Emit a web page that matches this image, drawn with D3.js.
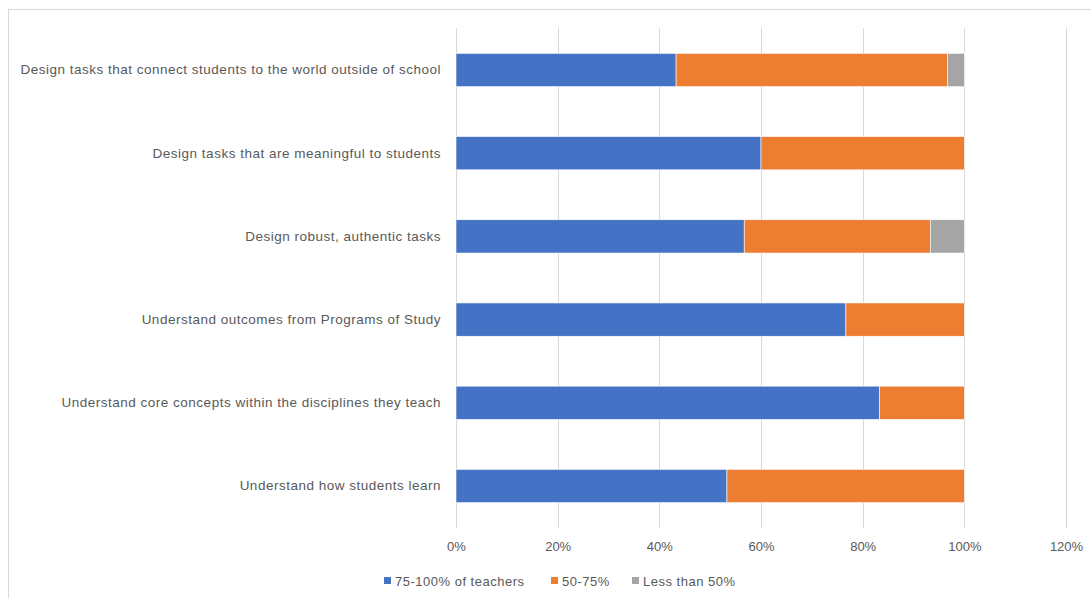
<!DOCTYPE html>
<html>
<head>
<meta charset="utf-8">
<script src="https://cdn.jsdelivr.net/npm/d3@7"></script>
<style>
  html, body { margin: 0; padding: 0; background: #fff; }
  svg { display: block; }
  text { font-family: "Liberation Sans", Arial, sans-serif; fill: #595959; }
</style>
</head>
<body>
<svg id="chart" width="1091" height="598"></svg>
<script>
const categories = [
  "Design tasks that connect students to the world outside of school",
  "Design tasks that are meaningful to students",
  "Design robust, authentic tasks",
  "Understand outcomes from Programs of Study",
  "Understand core concepts within the disciplines they teach",
  "Understand how students learn"
];
const seriesNames = ["75-100% of teachers", "50-75%", "Less than 50%"];
const high = [0.433, 0.60, 0.567, 0.767, 0.833, 0.533];
const mid = [0.534, 0.40, 0.366, 0.233, 0.167, 0.467];
const low = [0.033, 0.0, 0.067, 0.0, 0.0, 0.0];
const colors = ["#4472C4", "#ED7D31", "#A5A5A5"];
const tickValues = [0, 0.2, 0.4, 0.6, 0.8, 1.0, 1.2];

const svg = d3.select("#chart");

// outer border
svg.append("rect")
  .attr("x", 8.5).attr("y", 9.5)
  .attr("width", 1100).attr("height", 600)
  .attr("fill", "none").attr("stroke", "#D9D9D9").attr("stroke-width", 1);

const x = d3.scaleLinear().domain([0, 1.2]).range([456, 1066]);
const y = d3.scaleBand().domain(categories).range([28.4, 527.6]).paddingInner(0.6).paddingOuter(0.3);

// gridlines
svg.append("g").selectAll("line").data(tickValues).join("line")
  .attr("x1", d => Math.round(x(d)) + 0.5).attr("x2", d => Math.round(x(d)) + 0.5)
  .attr("y1", 28).attr("y2", 528)
  .attr("stroke", "#D9D9D9").attr("stroke-width", 1);

// stacked data
const rows = categories.map((c, i) => ({ cat: c, s0: high[i], s1: mid[i], s2: low[i] }));
const stack = d3.stack().keys(["s0", "s1", "s2"])(rows);

svg.append("g").selectAll("g").data(stack).join("g")
  .attr("fill", (d, i) => colors[i])
  .selectAll("rect").data(d => d).join("rect")
  .attr("x", d => x(d[0]))
  .attr("width", d => Math.max(0, x(d[1]) - x(d[0])))
  .attr("y", d => y(d.data.cat))
  .attr("height", y.bandwidth())
  .attr("stroke", "#fff").attr("stroke-width", 0.6);

// category labels
const yAxis = d3.axisLeft(y).tickSize(0).tickPadding(15);
const gy = svg.append("g").attr("transform", "translate(456,0)").call(yAxis);
gy.select(".domain").remove();
gy.selectAll("text").style("font-size", "13.5px").attr("fill", "#595959")
  .style("letter-spacing", "0.5px")
  .style("font-family", '"Liberation Sans", Arial, sans-serif');

// x axis tick labels
const xAxis = d3.axisBottom(x).tickValues(tickValues).tickFormat(d3.format(".0%")).tickSize(0).tickPadding(14);
const gx = svg.append("g").attr("transform", "translate(0,528)").call(xAxis);
gx.select(".domain").remove();
gx.selectAll("text").style("font-size", "13px").attr("fill", "#595959")
  .style("font-family", '"Liberation Sans", Arial, sans-serif');

// legend
const legendX = [384, 551, 632];
const lg = svg.append("g");
seriesNames.forEach((n, i) => {
  lg.append("rect").attr("x", legendX[i]).attr("y", 577).attr("width", 7).attr("height", 7).attr("fill", colors[i]);
  lg.append("text").attr("x", legendX[i] + 11).attr("y", 585.5)
    .style("font-size", "13px").style("letter-spacing", "0.5px").text(n);
});
</script>
</body>
</html>
